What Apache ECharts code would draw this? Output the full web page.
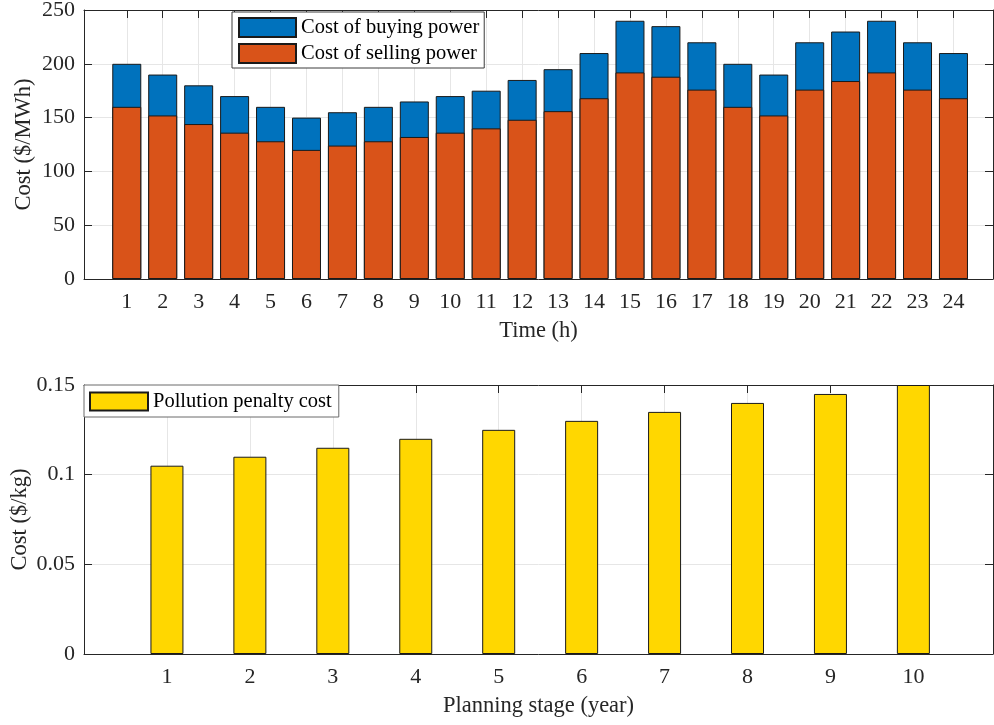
<!DOCTYPE html>
<html>
<head>
<meta charset="utf-8">
<script src="https://cdn.jsdelivr.net/npm/echarts@6/dist/echarts.min.js"></script>
<style>
  html, body { margin: 0; padding: 0; background: #fff; }
  #chart { width: 994px; height: 725px; }
</style>
</head>
<body>
<div id="chart"></div>
<script>
// Hourly electricity prices ($/MWh)
const hours = [1, 2, 3, 4, 5, 6, 7, 8, 9, 10, 11, 12, 13, 14, 15, 16, 17, 18, 19, 20, 21, 22, 23, 24];
const buyingCost = [200, 190, 180, 170, 160, 150, 155, 160, 165, 170, 175, 185, 195, 210, 240, 235, 220, 200, 190, 220, 230, 240, 220, 210];
const sellingCost = [160, 152, 144, 136, 128, 120, 124, 128, 132, 136, 140, 148, 156, 168, 192, 188, 176, 160, 152, 176, 184, 192, 176, 168];

// Pollution penalty per planning stage ($/kg)
const stages = [1, 2, 3, 4, 5, 6, 7, 8, 9, 10];
const penaltyCost = [0.105, 0.110, 0.115, 0.120, 0.125, 0.130, 0.135, 0.140, 0.145, 0.150];

const FONT = 'Liberation Serif';
const INK = '#262626';
const GRID = '#e6e6e6';

function pairs(xs, ys) { return xs.map((x, i) => [x, ys[i]]); }

function xAxes(gridIndex, min, max, ticks, name) {
  const common = {
    type: 'value', gridIndex, min, max,
    axisLine: { show: true, onZero: false, lineStyle: { color: INK, width: 1 } },
    axisTick: { show: true, inside: true, length: 8, customValues: ticks, lineStyle: { color: INK } }
  };
  return [
    Object.assign({}, common, {
      position: 'bottom',
      name, nameLocation: 'middle', nameGap: 41,
      nameTextStyle: { fontFamily: FONT, fontSize: 22.5, color: INK },
      axisLabel: { customValues: ticks, margin: 12, fontFamily: FONT, fontSize: 22, color: INK },
      splitLine: { show: true, lineStyle: { color: GRID, width: 1 } }
    }),
    Object.assign({}, common, {
      position: 'top',
      axisLabel: { show: false },
      splitLine: { show: false }
    })
  ];
}

function yAxes(gridIndex, min, max, interval, name, nameGap, fmt) {
  const common = {
    type: 'value', gridIndex, min, max, interval,
    axisLine: { show: true, onZero: false, lineStyle: { color: INK, width: 1 } },
    axisTick: { show: true, inside: true, length: 8, lineStyle: { color: INK } }
  };
  return [
    Object.assign({}, common, {
      position: 'left',
      name, nameLocation: 'middle', nameGap, nameMoveOverlap: false,
      nameTextStyle: { fontFamily: FONT, fontSize: 22.5, color: INK },
      axisLabel: { margin: 9, fontFamily: FONT, fontSize: 22, color: INK, formatter: fmt },
      splitLine: { show: true, lineStyle: { color: GRID, width: 1 } }
    }),
    Object.assign({}, common, {
      position: 'right',
      axisLabel: { show: false },
      splitLine: { show: false }
    })
  ];
}

const chart = echarts.init(document.getElementById('chart'), null, { renderer: 'canvas' });

const option = {
  animation: false,
  backgroundColor: '#ffffff',
  textStyle: { fontFamily: FONT },
  grid: [
    { left: 84, right: 1, top: 10, height: 269, outerBoundsMode: 'none', containLabel: false },
    { left: 84, right: 1, top: 385, height: 269, outerBoundsMode: 'none', containLabel: false }
  ],
  xAxis: [
    ...xAxes(0, -0.19, 25.10, hours, 'Time (h)'),
    ...xAxes(1, 0, 10.96, stages, 'Planning stage (year)')
  ],
  yAxis: [
    ...yAxes(0, 0, 250, 50, 'Cost ($/MWh)', 48, v => String(v)),
    ...yAxes(1, 0, 0.15, 0.05, 'Cost ($/kg)', 52, v => String(+v.toFixed(2)))
  ],
  legend: [
    {
      data: ['Cost of buying power', 'Cost of selling power'],
      orient: 'vertical', left: 232, top: 12,
      icon: 'rect',
      itemWidth: 57, itemHeight: 19, itemGap: 5,
      padding: [5, 5, 4, 6],
      borderColor: '#3c3c3c', borderWidth: 1, backgroundColor: '#ffffff',
      textStyle: { fontFamily: FONT, fontSize: 20.5, color: '#000' }
    },
    {
      data: ['Pollution penalty cost'],
      orient: 'vertical', left: 84, top: 385,
      icon: 'rect',
      itemWidth: 58, itemHeight: 18,
      padding: [6, 7, 5, 5],
      borderColor: '#6a6a6a', borderWidth: 1, backgroundColor: '#ffffff',
      textStyle: { fontFamily: FONT, fontSize: 20.5, color: '#000' }
    }
  ],
  series: [
    {
      name: 'Cost of buying power', type: 'bar',
      xAxisIndex: 0, yAxisIndex: 0,
      barWidth: 29, barGap: '-100%',
      itemStyle: { color: '#0072BD', borderColor: '#1a1a1a', borderWidth: 1 },
      data: pairs(hours, buyingCost)
    },
    {
      name: 'Cost of selling power', type: 'bar',
      xAxisIndex: 0, yAxisIndex: 0,
      barWidth: 29, barGap: '-100%',
      itemStyle: { color: '#D95319', borderColor: '#1a1a1a', borderWidth: 1 },
      data: pairs(hours, sellingCost)
    },
    {
      name: 'Pollution penalty cost', type: 'bar',
      xAxisIndex: 2, yAxisIndex: 2,
      barWidth: 33,
      itemStyle: { color: '#FFD700', borderColor: '#1a1a1a', borderWidth: 1 },
      data: pairs(stages, penaltyCost)
    }
  ]
};

chart.setOption(option);
</script>
</body>
</html>
